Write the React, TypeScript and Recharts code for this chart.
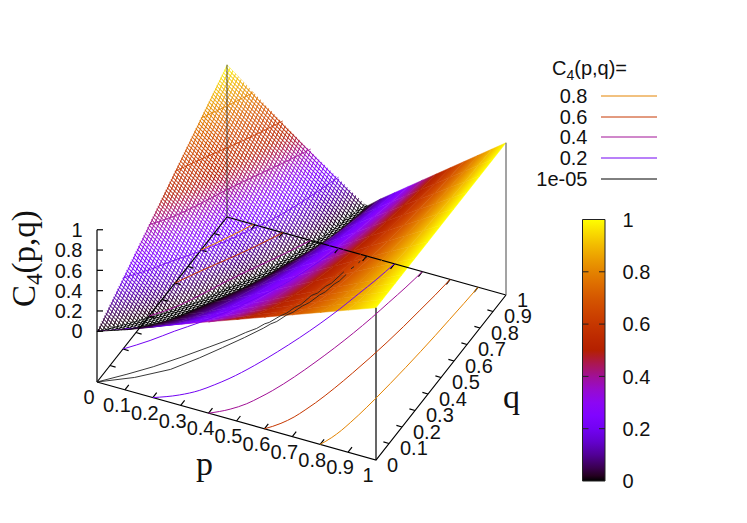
import React from "react";
import { ScatterChart, Scatter, XAxis, YAxis, ReferenceArea } from "recharts";

// ---------- data ----------
const qRows = [0, 0.05, 0.1, 0.15, 0.2, 0.3, 0.4, 0.5, 0.6, 0.7, 0.8, 0.9, 1];
// valley (zero plateau) borders, per q row
const plateauLeftP = [0, 0.045, 0.09, 0.125, 0.165, 0.235, 0.285, 0.345, 0.38, 0.415, 0.45, 0.47, 0.495];
const plateauRightP = [0, 0.085, 0.135, 0.18, 0.21, 0.265, 0.32, 0.365, 0.4, 0.44, 0.47, 0.49, 0.505];
// rising side: p at which C4 reaches each level, per q row
const riseLevels = [0, 0.1, 0.2, 0.3, 0.4, 0.5, 0.6, 0.7, 0.8, 0.9, 1];
const riseP01 = [0.1, 0.181, 0.235, 0.271, 0.303, 0.352, 0.393, 0.429, 0.46, 0.487, 0.51, 0.532, 0.55];
const riseP02 = [0.2, 0.272, 0.32, 0.352, 0.38, 0.424, 0.46, 0.492, 0.52, 0.544, 0.564, 0.584, 0.6];
const riseP03 = [0.3, 0.363, 0.405, 0.433, 0.458, 0.496, 0.528, 0.556, 0.58, 0.601, 0.619, 0.636, 0.65];
const riseP04 = [0.4, 0.454, 0.49, 0.514, 0.535, 0.568, 0.595, 0.619, 0.64, 0.658, 0.673, 0.688, 0.7];
const riseP05 = [0.5, 0.545, 0.575, 0.595, 0.613, 0.64, 0.663, 0.683, 0.7, 0.715, 0.728, 0.74, 0.75];
const riseP06 = [0.6, 0.636, 0.66, 0.676, 0.69, 0.712, 0.73, 0.746, 0.76, 0.772, 0.782, 0.792, 0.8];
const riseP07 = [0.7, 0.727, 0.745, 0.757, 0.768, 0.784, 0.798, 0.81, 0.82, 0.829, 0.837, 0.844, 0.85];
const riseP08 = [0.8, 0.818, 0.83, 0.838, 0.845, 0.856, 0.865, 0.873, 0.88, 0.886, 0.891, 0.896, 0.9];
const riseP09 = [0.9, 0.909, 0.915, 0.919, 0.923, 0.928, 0.933, 0.937, 0.94, 0.943, 0.946, 0.948, 0.95];
const riseP10 = [1, 1, 1, 1, 1, 1, 1, 1, 1, 1, 1, 1, 1];
const riseTable = [plateauRightP, riseP01, riseP02, riseP03, riseP04, riseP05, riseP06, riseP07, riseP08, riseP09, riseP10];
// falling side: C4 at fractions of the way from p=0 to the plateau, per q row
const fallFractions = [0, 0.2, 0.4, 0.6, 0.8, 1];
const fallHeights = [
  [0, 0, 0, 0, 0, 0],
  [0.05, 0.039, 0.029, 0.018, 0.009, 0],
  [0.1, 0.078, 0.057, 0.037, 0.017, 0],
  [0.15, 0.117, 0.086, 0.055, 0.026, 0],
  [0.2, 0.156, 0.114, 0.073, 0.034, 0],
  [0.3, 0.235, 0.171, 0.11, 0.051, 0],
  [0.4, 0.313, 0.228, 0.146, 0.068, 0],
  [0.5, 0.391, 0.285, 0.183, 0.085, 0],
  [0.6, 0.469, 0.342, 0.219, 0.102, 0],
  [0.7, 0.547, 0.399, 0.256, 0.119, 0],
  [0.8, 0.626, 0.456, 0.292, 0.136, 0],
  [0.9, 0.704, 0.513, 0.329, 0.153, 0],
  [1, 0.79, 0.58, 0.38, 0.19, 0],
];
// contours on the falling side, [p, q]
const fall02 = [[0, 0.2], [0.06, 0.28], [0.11, 0.36], [0.165, 0.44], [0.22, 0.53], [0.27, 0.63], [0.32, 0.74], [0.36, 0.86], [0.4, 1]];
const fall04 = [[0, 0.4], [0.05, 0.47], [0.1, 0.57], [0.147, 0.68], [0.2, 0.79], [0.25, 0.89], [0.3, 1]];
const fall06 = [[0, 0.6], [0.05, 0.7], [0.104, 0.8], [0.15, 0.89], [0.2, 1]];
const fall08 = [[0, 0.8], [0.05, 0.9], [0.095, 1]];
// the two 1e-05 contours (finely jagged in the source)
const zeroUpper = [[0, 0], [0.07, 0.08], [0.13, 0.154], [0.19, 0.24], [0.25, 0.332], [0.3, 0.41], [0.322, 0.452], [0.345, 0.488], [0.358, 0.522], [0.368, 0.535], [0.385, 0.582], [0.398, 0.606], [0.408, 0.644], [0.42, 0.668], [0.43, 0.728], [0.442, 0.748], [0.45, 0.792], [0.46, 0.815], [0.47, 0.89]];
const zeroLower = [[0, 0], [0.1, 0.075], [0.187, 0.165], [0.245, 0.262], [0.289, 0.345], [0.33, 0.425], [0.364, 0.498], [0.376, 0.53], [0.388, 0.55], [0.402, 0.596], [0.414, 0.618], [0.428, 0.664], [0.44, 0.69], [0.452, 0.74], [0.462, 0.765], [0.47, 0.815], [0.478, 0.838], [0.483, 0.88]];
const zeroDashes = [[[0.484, 0.915], [0.488, 0.93]], [[0.492, 0.955], [0.494, 0.965]], [[0.5, 0.985], [0.505, 1]]];

const contourLevels = [0.2, 0.4, 0.6, 0.8];
const contourRise = [riseP02, riseP04, riseP06, riseP08];
const contourFall = [fall02, fall04, fall06, fall08];

const axisTicks = [0, 0.1, 0.2, 0.3, 0.4, 0.5, 0.6, 0.7, 0.8, 0.9, 1];
const axisTickText = ["0", "0.1", "0.2", "0.3", "0.4", "0.5", "0.6", "0.7", "0.8", "0.9", "1"];
const zTicks = [0, 0.2, 0.4, 0.6, 0.8, 1];
const zTickText = ["0", "0.2", "0.4", "0.6", "0.8", "1"];
const legendText = ["0.8", "0.6", "0.4", "0.2", "1e-05"];
const legendLevels = [0.8, 0.6, 0.4, 0.2, 0.00001];
const barTicks = [0, 0.2, 0.4, 0.6, 0.8, 1];
const barTickText = ["0", "0.2", "0.4", "0.6", "0.8", "1"];
const barStops = [0, 0.02, 0.05, 0.1, 0.15, 0.2, 0.25, 0.3, 0.35, 0.4, 0.45, 0.5, 0.55, 0.6, 0.65, 0.7, 0.75, 0.8, 0.85, 0.9, 0.95, 1];

// ---------- view ----------
const W = 747;
const H = 523;
const FLOOR = -0.5;
const FONT = 20;
const project = (p: number, q: number, z: number) => ({
  x: 97 + 279 * p + 130 * q,
  y: 382 + 78 * p - 165 * q - (z - FLOOR) * 101.5,
});
const palette = (v: number) => {
  const t = Math.max(0, Math.min(1, v));
  const r = Math.sqrt(t);
  const g = t * t * t;
  const b = Math.max(0, Math.sin(2 * Math.PI * t));
  return `rgb(${Math.round(r * 255)},${Math.round(g * 255)},${Math.round(b * 255)})`;
};

type Cell = { x: number; y: number; pts: { x: number; y: number }[]; z: number[]; mask: string; id: string };
const makeCell = (corners: number[][], mask: string, id: string): Cell => {
  const pts = corners.map((c) => project(c[0], c[1], c[2]));
  return { x: pts[0].x, y: pts[0].y, pts, z: corners.map((c) => c[2]), mask, id };
};

const backCells: Cell[] = [];
const flatCells: Cell[] = [];
const frontCells: Cell[] = [];
for (let j = 0; j < qRows.length - 1; j++) {
  const q0 = qRows[j];
  const q1 = qRows[j + 1];
  for (let i = 0; i < fallFractions.length - 1; i++) {
    backCells.push(
      makeCell(
        [
          [fallFractions[i] * plateauLeftP[j], q0, fallHeights[j][i]],
          [fallFractions[i + 1] * plateauLeftP[j], q0, fallHeights[j][i + 1]],
          [fallFractions[i + 1] * plateauLeftP[j + 1], q1, fallHeights[j + 1][i + 1]],
          [fallFractions[i] * plateauLeftP[j + 1], q1, fallHeights[j + 1][i]],
        ],
        "url(#meshBack)",
        `b${j}_${i}`,
      ),
    );
  }
  flatCells.push(
    makeCell(
      [
        [plateauLeftP[j], q0, 0],
        [plateauRightP[j], q0, 0],
        [plateauRightP[j + 1], q1, 0],
        [plateauLeftP[j + 1], q1, 0],
      ],
      "url(#meshFlat)",
      `f${j}`,
    ),
  );
  for (let i = 0; i < riseLevels.length - 1; i++) {
    frontCells.push(
      makeCell(
        [
          [riseTable[i][j], q0, riseLevels[i]],
          [riseTable[i + 1][j], q0, riseLevels[i + 1]],
          [riseTable[i + 1][j + 1], q1, riseLevels[i + 1]],
          [riseTable[i][j + 1], q1, riseLevels[i]],
        ],
        "",
        `r${j}_${i}`,
      ),
    );
  }
}

const Quad = (props: any) => {
  const c: Cell = props.payload;
  const dx = props.cx - c.x;
  const dy = props.cy - c.y;
  const P = c.pts.map((a) => ({ x: a.x + dx, y: a.y + dy }));
  const d1 = { x: P[2].x - P[0].x, y: P[2].y - P[0].y };
  const d2 = { x: P[3].x - P[1].x, y: P[3].y - P[1].y };
  const det = d1.x * d2.y - d1.y * d2.x;
  const a = c.z[2] - c.z[0];
  const b = c.z[3] - c.z[1];
  const gx = det ? (a * d2.y - b * d1.y) / det : 0;
  const gy = det ? (d1.x * b - d2.x * a) / det : 0;
  const g2 = gx * gx + gy * gy;
  const zc = (c.z[0] + c.z[1] + c.z[2] + c.z[3]) / 4;
  const px = (P[0].x + P[1].x + P[2].x + P[3].x) / 4;
  const py = (P[0].y + P[1].y + P[2].y + P[3].y) / 4;
  const zMin = Math.min(...c.z);
  const zMax = Math.max(...c.z);
  const points = P.map((a2) => `${a2.x},${a2.y}`).join(" ");
  const mask = c.mask || undefined;
  if (g2 < 1e-12 || zMax - zMin < 1e-6) {
    return <polygon points={points} fill={palette(zc)} stroke={palette(zc)} strokeWidth={0.5} mask={mask} />;
  }
  const at = (z: number) => ({ x: px + (gx / g2) * (z - zc), y: py + (gy / g2) * (z - zc) });
  const s = at(zMin);
  const e = at(zMax);
  const stops = [0, 0.25, 0.5, 0.75, 1];
  return (
    <g>
      <linearGradient id={c.id} gradientUnits="userSpaceOnUse" x1={s.x} y1={s.y} x2={e.x} y2={e.y}>
        {stops.map((t) => (
          <stop key={t} offset={t} stopColor={palette(zMin + (zMax - zMin) * t)} />
        ))}
      </linearGradient>
      <polygon points={points} fill={`url(#${c.id})`} stroke={`url(#${c.id})`} strokeWidth={0.5} mask={mask} />
    </g>
  );
};

const Nothing = () => <g />;

type Lbl = { x: number; y: number; text: string; sub?: string; tail?: string; anchor?: string; size: number; serif?: boolean; rotate?: boolean; baseline?: boolean };
const TextMark = (props: any) => {
  const l: Lbl = props.payload;
  const family = l.serif ? "'Liberation Serif', serif" : "'Liberation Sans', sans-serif";
  return (
    <text
      x={props.cx}
      y={props.cy}
      dy={l.baseline ? 0 : "0.36em"}
      textAnchor={(l.anchor as any) || "start"}
      fontFamily={family}
      fontSize={l.size}
      fill="#111"
      transform={l.rotate ? `rotate(-90 ${props.cx} ${props.cy})` : undefined}
    >
      {l.text}
      {l.sub ? (
        <tspan fontSize={l.size * 0.7} dy={l.size * 0.22}>
          {l.sub}
        </tspan>
      ) : null}
      {l.tail ? <tspan dy={-l.size * 0.22}>{l.tail}</tspan> : null}
    </text>
  );
};

const polys: { pts: { x: number; y: number }[]; stroke: string; w: number; o?: number; curve?: string }[] = [];
const addLine = (pts: { x: number; y: number }[], stroke = "#000", w = 1.2, o = 1, curve?: string) => polys.push({ pts, stroke, w, o, curve });

// borders
const corner = (p: number, q: number, z = FLOOR) => project(p, q, z);
addLine([corner(0, 1), corner(1, 1)]);
addLine([corner(0, 0), corner(1, 0), corner(1, 1)]);
addLine([corner(0, 0), corner(0, 1)]);
addLine([corner(0, 0), corner(0, 0, 1)]);
addLine([corner(1, 0), corner(1, 0, 1)]);
addLine([corner(0, 1), corner(0, 1, 1)], "#222", 1, 0.8);
addLine([corner(1, 1), corner(1, 1, 1)], "#666", 1.2);
// ticks
axisTicks.forEach((t) => {
  if (t > 0 && t < 1) {
    const a = corner(t, 0);
    addLine([a, { x: a.x + 3.9, y: a.y - 5 }]);
    const b = corner(t, 1);
    addLine([b, { x: b.x - 3.9, y: b.y + 5 }]);
    const c = corner(1, t);
    addLine([c, { x: c.x - 5.6, y: c.y - 1.6 }]);
    const d = corner(0, t);
    addLine([d, { x: d.x + 5.6, y: d.y + 1.6 }]);
  }
});
zTicks.forEach((t) => {
  const a = corner(0, 0, t);
  addLine([a, { x: a.x + 6, y: a.y }]);
});
// contours on the surface and on the floor
const riseLine = (tbl: number[], z: number) => tbl.map((p, j) => project(p, qRows[j], z));
const fallLine = (tbl: number[][], z: number) => tbl.map((a) => project(a[0], a[1], z));
contourLevels.forEach((lv, k) => {
  addLine(fallLine(contourFall[k], lv), palette(lv), 1, 0.8, "monotoneX");
  addLine(riseLine(contourRise[k], lv), palette(lv), 1, 0.6, "monotoneX");
  addLine(fallLine(contourFall[k], FLOOR), palette(lv), 1, 1, "monotoneX");
  addLine(riseLine(contourRise[k], FLOOR), palette(lv), 1, 1, "monotoneX");
});
addLine(fallLine(zeroUpper, FLOOR), "#222", 0.9);
addLine(fallLine(zeroLower, FLOOR), "#222", 0.9);
zeroDashes.forEach((d) => addLine(fallLine(d, FLOOR), "#222", 1));
// legend samples
const legendY = [96, 117, 137, 158, 179];
legendLevels.forEach((lv, i) => addLine([{ x: 601, y: legendY[i] }, { x: 657, y: legendY[i] }], palette(lv), 1));
// colour bar frame and ticks
const BAR = { l: 582.5, r: 605, t: 219.5, b: 481 };
const barY = (v: number) => BAR.b - v * (BAR.b - BAR.t);
addLine([{ x: BAR.l, y: BAR.t }, { x: BAR.r, y: BAR.t }, { x: BAR.r, y: BAR.b }, { x: BAR.l, y: BAR.b }, { x: BAR.l, y: BAR.t }], "#222", 1);
barTicks.forEach((v) => {
  if (v > 0 && v < 1) {
    addLine([{ x: BAR.l, y: barY(v) }, { x: BAR.l + 6, y: barY(v) }], "#222", 1);
    addLine([{ x: BAR.r - 6, y: barY(v) }, { x: BAR.r, y: barY(v) }], "#222", 1);
  }
});

const labels: Lbl[] = [];
axisTicks.forEach((t, i) => {
  const a = corner(t, 0);
  labels.push({ x: a.x - 8, y: a.y + 15, text: axisTickText[i], anchor: "middle", size: FONT });
  const c = corner(1, t);
  labels.push({ x: c.x + 11, y: c.y + 4.5, text: axisTickText[i], size: FONT });
});
zTicks.forEach((t, i) => {
  const a = corner(0, 0, t);
  labels.push({ x: 82.5, y: a.y, text: zTickText[i], anchor: "end", size: FONT });
});
legendText.forEach((s, i) => labels.push({ x: 587.5, y: legendY[i], text: s, anchor: "end", size: FONT }));
barTicks.forEach((v, i) => labels.push({ x: 622.5, y: barY(v), text: barTickText[i], size: FONT }));
labels.push({ x: 552, y: 68, text: "C", sub: "4", tail: "(p,q)=", size: FONT });
labels.push({ x: 35, y: 307, text: "C", sub: "4", tail: "(p,q)", size: 33, serif: true, rotate: true, baseline: true });
labels.push({ x: 196, y: 475, text: "p", size: 34, serif: true, baseline: true });
labels.push({ x: 503, y: 408, text: "q", size: 34, serif: true, baseline: true });

const App = () => (
  <div style={{ position: "absolute", left: 0, top: 0, width: W, height: H, background: "#fff" }}>
    <ScatterChart width={W} height={H} margin={{ top: 0, right: 0, bottom: 0, left: 0 }}>
      <defs>
        <pattern id="latBack" patternUnits="userSpaceOnUse" width={10} height={10} patternTransform="matrix(0.13 -0.268 0.28 0.282 0 0)">
          <rect x={0} y={0} width={10} height={10} fill="#000" />
          <rect x={0} y={0} width={10} height={2.3} fill="#fff" />
          <rect x={0} y={0} width={3.1} height={10} fill="#fff" />
        </pattern>
        <pattern id="latFlat" patternUnits="userSpaceOnUse" width={10} height={10} patternTransform="matrix(0.13 -0.165 0.279 0.078 0 0)">
          <rect x={0} y={0} width={10} height={10} fill="#000" />
          <rect x={0} y={0} width={10} height={4} fill="#fff" />
          <rect x={0} y={0} width={4} height={10} fill="#fff" />
        </pattern>
        <mask id="meshBack" maskUnits="userSpaceOnUse" x={0} y={0} width={W} height={H}>
          <rect x={0} y={0} width={W} height={H} fill="url(#latBack)" />
        </mask>
        <mask id="meshFlat" maskUnits="userSpaceOnUse" x={0} y={0} width={W} height={H}>
          <rect x={0} y={0} width={W} height={H} fill="url(#latFlat)" />
        </mask>
        <linearGradient id="barGrad" x1={0} y1={1} x2={0} y2={0}>
          {barStops.map((v) => (
            <stop key={v} offset={v} stopColor={palette(v)} />
          ))}
        </linearGradient>
      </defs>
      <XAxis type="number" dataKey="x" domain={[0, W]} hide />
      <YAxis type="number" dataKey="y" domain={[0, H]} reversed hide />
      <ReferenceArea x1={BAR.l} x2={BAR.r} y1={BAR.t} y2={BAR.b} fill="url(#barGrad)" fillOpacity={1} stroke="none" />
      <Scatter data={backCells} shape={Quad} isAnimationActive={false} />
      <Scatter data={flatCells} shape={Quad} isAnimationActive={false} />
      <Scatter data={frontCells} shape={Quad} isAnimationActive={false} />
      {polys.map((l, i) => (
        <Scatter
          key={i}
          data={l.pts}
          shape={Nothing}
          line={{ stroke: l.stroke, strokeWidth: l.w, strokeOpacity: l.o }}
          lineJointType={(l.curve as any) || "linear"}
          isAnimationActive={false}
        />
      ))}
      <Scatter data={labels} shape={TextMark} isAnimationActive={false} />
    </ScatterChart>
  </div>
);

export default App;
